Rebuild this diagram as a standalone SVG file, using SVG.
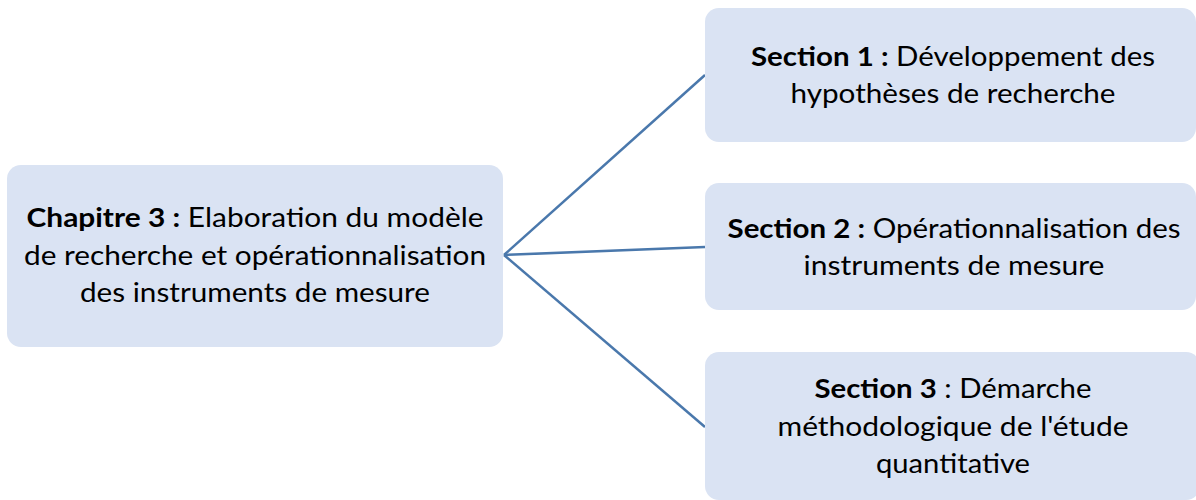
<svg xmlns="http://www.w3.org/2000/svg" width="1196" height="500" viewBox="0 0 1196 500">
<style>
.box{fill:#DAE3F3;stroke:none}
.t{font-family:Lato,"Liberation Sans",sans-serif;font-size:27px;fill:#000;text-anchor:middle}
.b{font-weight:bold}
.c{stroke:#4A78AC;stroke-width:2.5;fill:none}
</style>
<rect width="1196" height="500" fill="#fff"/>
<g id="connectors">
<line class="c" x1="504" y1="255" x2="705" y2="75"/>
<line class="c" x1="504" y1="255" x2="705" y2="247"/>
<line class="c" x1="504" y1="255" x2="705" y2="427"/>
</g>
<g id="chapitre3">
<rect class="box" x="7" y="165" width="496" height="182" rx="14"/>
<text class="t" x="255" y="227" textLength="457" lengthAdjust="spacingAndGlyphs"><tspan class="b">Chapitre 3 :</tspan> Elaboration du modèle</text>
<text class="t" x="255" y="265" textLength="462" lengthAdjust="spacingAndGlyphs">de recherche et opérationnalisation</text>
<text class="t" x="255" y="302" textLength="350" lengthAdjust="spacingAndGlyphs">des instruments de mesure</text>
</g>
<g id="section1">
<rect class="box" x="705" y="8" width="491" height="134" rx="14"/>
<text class="t" x="953" y="66" textLength="404" lengthAdjust="spacingAndGlyphs"><tspan class="b">Section 1 :</tspan> Développement des</text>
<text class="t" x="953" y="103" textLength="325" lengthAdjust="spacingAndGlyphs">hypothèses de recherche</text>
</g>
<g id="section2">
<rect class="box" x="705" y="183" width="491" height="127" rx="14"/>
<text class="t" x="954" y="238" textLength="453" lengthAdjust="spacingAndGlyphs"><tspan class="b">Section 2 :</tspan> Opérationnalisation des</text>
<text class="t" x="954" y="275" textLength="301" lengthAdjust="spacingAndGlyphs">instruments de mesure</text>
</g>
<g id="section3">
<rect class="box" x="705" y="352" width="495" height="148" rx="14"/>
<text class="t" x="953" y="398" textLength="277" lengthAdjust="spacingAndGlyphs"><tspan class="b">Section 3</tspan> : Démarche</text>
<text class="t" x="953" y="436" textLength="351" lengthAdjust="spacingAndGlyphs">méthodologique de l'étude</text>
<text class="t" x="953" y="473" textLength="154" lengthAdjust="spacingAndGlyphs">quantitative</text>
</g>
</svg>
